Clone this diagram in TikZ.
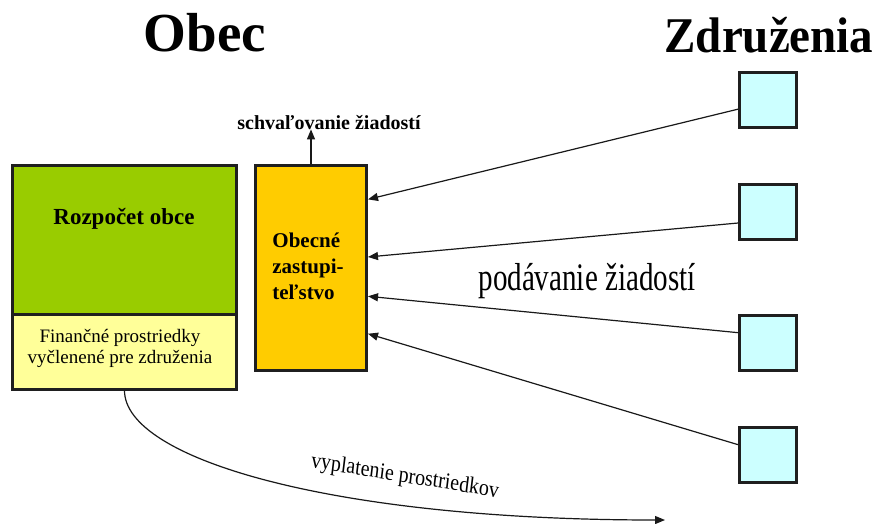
\documentclass[tikz,border=0pt]{standalone}
\usepackage{fontspec}
\setmainfont{Liberation Serif}
\usetikzlibrary{arrows.meta,calc}
\definecolor{budgetgreen}{HTML}{99CC00}
\definecolor{fundyellow}{HTML}{FFFF99}
\definecolor{councilorange}{HTML}{FFCC00}
\definecolor{assoccyan}{HTML}{CCFFFF}
\newcommand{\fsz}[2]{\fontsize{#1}{#2}\selectfont}
\begin{document}
\begin{tikzpicture}[x=1pt,y=-1pt,
  box/.style={draw=black!88, line width=3pt, inner sep=0pt},
  sqbox/.style={box, fill=assoccyan, minimum width=57pt, minimum height=55pt},
  conn/.style={line width=1.2pt, draw=black!90, -{Triangle[length=10pt,width=8pt]}},
  title/.style={font=\fsz{55}{60}\bfseries, anchor=base, inner sep=0pt},
  lbl/.style={inner sep=0pt, anchor=base},
  ]
\useasboundingbox[fill=white] (0,0) rectangle (877,524);

% titles
\node[title] (obec) at (205,52) {Obec};
\node[title, font=\fsz{50}{56}\bfseries, xscale=0.94] (zdr) at (769,53) {Združenia};

% municipality boxes
\node[box, fill=budgetgreen, minimum width=224pt, minimum height=149pt] (bud) at (124.5,239.5) {};
\node[box, fill=fundyellow, minimum width=224pt, minimum height=75pt] (fin) at (124.5,351.5) {};
\node[box, fill=councilorange, minimum width=111pt, minimum height=205pt] (org) at (311,268) {};

\node[lbl, font=\fsz{23}{26}\bfseries] (budt) at (124,224) {Rozpočet obce};
\node[inner sep=0pt, align=center, font=\fsz{19}{21}] (fint) at (120,348)
  {Finančné prostriedky\\vyčlenené pre združenia};
\node[inner sep=0pt, align=left, font=\fsz{21}{26}\bfseries] (orgt) at (308,266)
  {Obecné\\zastupi-\\teľstvo};

% approval arrow
\node[lbl, font=\fsz{20}{24}\bfseries] (appr) at (329,129) {schvaľovanie žiadostí};
\draw[conn] (org.north) -- (org.north |- appr.south);

% associations
\node[sqbox] (s1) at (768,100) {};
\node[sqbox] (s2) at (768,211.5) {};
\node[sqbox] (s3) at (768,343) {};
\node[sqbox] (s4) at (768,455) {};

\draw[conn] (s1.197) -- ($(org.north east)!0.17!(org.south east)$);
\draw[conn] (s2.201) -- ($(org.north east)!0.447!(org.south east)$);
\draw[conn] (s3.161) -- ($(org.north east)!0.636!(org.south east)$);
\draw[conn] (s4.161) -- ($(org.north east)!0.816!(org.south east)$);

\node[lbl, font=\fsz{39}{44}, xscale=0.745] (sub) at (587,290) {podávanie žiadostí};

% payment
\coordinate (pay) at (665,520);
\draw[conn] (fin.south) .. controls +(0,68) and (330,520) .. (pay);
\node[inner sep=0pt, font=\fsz{20}{24}, yscale=1.15, rotate=-8] (payt) at (405,477) {vyplatenie prostriedkov};
\end{tikzpicture}
\end{document}
